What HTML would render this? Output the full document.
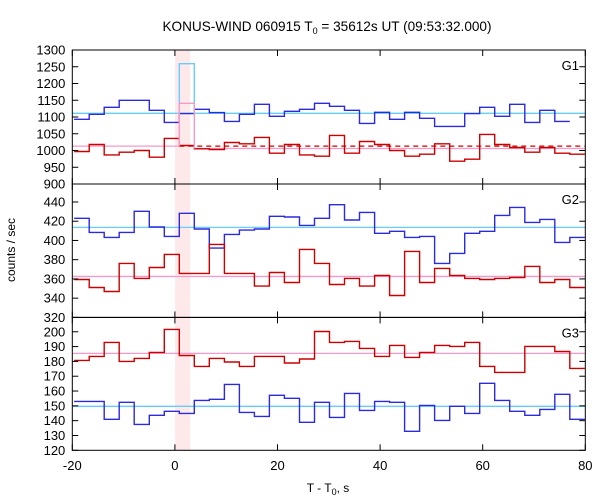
<!DOCTYPE html>
<html><head><meta charset="utf-8"><style>
body{margin:0;background:#fff;}
svg{display:block;font-family:"Liberation Sans",sans-serif;}
</style></head><body>
<svg id="chart" width="600" height="500" viewBox="0 0 600 500" xmlns="http://www.w3.org/2000/svg">
<text x="327" y="31" font-size="13.6" text-anchor="middle">KONUS-WIND 060915 T<tspan font-size="9" dy="3">0</tspan><tspan dy="-3"> = 35612s UT (09:53:32.000)</tspan></text>
<text transform="translate(15,250) rotate(-90)" font-size="12" text-anchor="middle">counts / sec</text>
<text x="328" y="492" font-size="12" text-anchor="middle">T - T<tspan font-size="9" dy="3">0</tspan><tspan dy="-3">, s</tspan></text>
<g id="plot"></g>
</svg>
<script>
const binStart = -19.64, binWidth = 2.928;
const xTicks = [-20, 0, 20, 40, 60, 80];
const g1Blue = [1093,1108,1129,1150,1150,1120,1084,1110,1123,1113,1087,1108,1138,1102,1117,1123,1141,1132,1120,1081,1114,1093,1114,1096,1072,1072,1110,1129,1102,1138,1084,1120,1087];
const g1Red = [997,1018,987,995,1000,980,1036,1015,1005,1003,1024,1020,1039,992,1018,987,983,1045,992,1027,1018,1000,983,989,1020,968,974,1048,1018,1009,995,1009,992,989];
const g1Ticks = [900,950,1000,1050,1100,1150,1200,1250,1300];
const g1BlueBg = 1111, g1RedBg = 1013, g1RedBgAfter = 1006, g1SpikeBlue = 1259, g1SpikeRed = 1141;
const g2Blue = [423,408.4,403.2,408.4,430.3,414,404.2,428.2,411.9,392.1,406.3,410.8,411.9,425.1,424.4,415.7,423,437.2,421.3,429.2,407.4,409.5,403.2,404.2,376.1,386.5,407.4,409.5,426.1,434.4,418.8,421.9,398,403.2];
const g2Red = [359.4,351.1,346.9,376.1,360.5,371.9,385.5,365.7,365.7,395.9,365.7,365.7,352.5,366.7,356.3,390.7,376.1,354.2,360.5,352.5,363.6,342.8,388.6,356.3,370.9,363.6,360.5,359.4,360.5,361.5,373,356.3,359.4,351.1];
const g2Ticks = [320,340,360,380,400,420,440];
const g2BlueBg = 413.6, g2RedBg = 362.6;
const g3Red = [180.7,183.4,192.8,180,182,186.1,201.6,184,176.6,182,179.6,176.6,183.4,183.4,178.9,181.6,200.2,192.8,193.5,188.8,183.4,190.8,182.7,186.1,190.8,190.1,192.8,176.6,172.6,172.6,190.1,190.1,186.7,175.3];
const g3Blue = [153,153,140.9,152.4,137.5,143.6,146.3,144.9,153.7,154.4,164.5,145.6,142.9,157.1,155.1,138.9,152.4,142.2,158.4,146.9,153,152.4,132.8,150.3,140.2,149.7,144.9,165.2,153.7,146.3,143.6,147.6,157.8,140.9];
const g3Ticks = [120,130,140,150,160,170,180,190,200];
const g3BlueBg = 149.7, g3RedBg = 185.4;

const NS = "http://www.w3.org/2000/svg";
const plot = document.getElementById('plot');
const X0 = 72.3, X1 = 585.3, XMIN = -20, XMAX = 80;
function xs(t){ return X0 + (t - XMIN) / (XMAX - XMIN) * (X1 - X0); }
function mk(tag, attrs, parent){ const e = document.createElementNS(NS, tag); for (const k in attrs) e.setAttribute(k, attrs[k]); (parent||plot).appendChild(e); return e; }
const BLUE = "#2a2ae0", RED = "#cc0000", CYAN = "#66ccff", PINK = "#f59ac8";

const band = mk('rect', {x: xs(0.05), y: 50, width: xs(2.98) - xs(0.05), height: 400.3, fill: '#fde9ea'});



const panels = [
  {name:'g1', top:50, bot:184, ymin:900, ymax:1300, ticks:g1Ticks, blue:g1Blue, red:g1Red, blueBg:g1BlueBg, redBg:g1RedBg},
  {name:'g2', top:184, bot:317.4, ymin:320, ymax:458.7, ticks:g2Ticks, blue:g2Blue, red:g2Red, blueBg:g2BlueBg, redBg:g2RedBg},
  {name:'g3', top:317.4, bot:450.3, ymin:120, ymax:209.7, ticks:g3Ticks, blue:g3Blue, red:g3Red, blueBg:g3BlueBg, redBg:g3RedBg}
];

function stepPath(vals, ys){
  let d = '';
  vals.forEach((v, i) => {
    const a = Math.max(XMIN, binStart + i * binWidth), b = Math.min(XMAX, binStart + (i + 1) * binWidth);
    const y = ys(v);
    d += (i === 0 ? 'M' : 'L') + xs(a).toFixed(1) + ',' + y.toFixed(1) + 'L' + xs(b).toFixed(1) + ',' + y.toFixed(1);
  });
  return d;
}

panels.forEach((p) => {
  const ys = v => p.bot - (v - p.ymin) / (p.ymax - p.ymin) * (p.bot - p.top);
  const g = mk('g', {});
  
  
  if (p.name === 'g1') {
    const spA = binStart + 7 * binWidth, spB = binStart + 8 * binWidth;
    const bb = mk('line', {x1: X0, x2: X1, y1: ys(p.blueBg), y2: ys(p.blueBg), stroke: CYAN, 'stroke-width': 1.3}, g);
    
    
    const rb1 = mk('line', {x1: X0, x2: xs(spA), y1: ys(p.redBg), y2: ys(p.redBg), stroke: PINK, 'stroke-width': 1.3}, g);
    
    
    const rb2 = mk('line', {x1: xs(spB), x2: X1, y1: ys(g1RedBgAfter), y2: ys(g1RedBgAfter), stroke: PINK, 'stroke-width': 1.3}, g);
    
    
  } else {
    const bb = mk('line', {x1: X0, x2: X1, y1: ys(p.blueBg), y2: ys(p.blueBg), stroke: CYAN, 'stroke-width': 1.3}, g);
    
    
    const rb = mk('line', {x1: X0, x2: X1, y1: ys(p.redBg), y2: ys(p.redBg), stroke: PINK, 'stroke-width': 1.3}, g);
    
    
  }
  const bl = mk('path', {d: stepPath(p.blue, ys), fill: 'none', stroke: BLUE, 'stroke-width': 1.4}, g);
  
  
  const rd = mk('path', {d: stepPath(p.red, ys), fill: 'none', stroke: RED, 'stroke-width': 1.4}, g);
  
  
  if (p.name === 'g1') {
    const spA = binStart + 7 * binWidth, spB = binStart + 8 * binWidth;
    const dash = mk('line', {x1: xs(spA), x2: X1, y1: ys(g1RedBg), y2: ys(g1RedBg), stroke: RED, 'stroke-width': 1.3, 'stroke-dasharray': '5,4'}, g);
    
    
    const cs = mk('path', {d: 'M' + xs(spA) + ',' + ys(g1BlueBg) + 'L' + xs(spA) + ',' + ys(g1SpikeBlue) + 'L' + xs(spB) + ',' + ys(g1SpikeBlue) + 'L' + xs(spB) + ',' + ys(g1BlueBg), fill: 'none', stroke: CYAN, 'stroke-width': 1.4}, g);
    
    
    const ps = mk('path', {d: 'M' + xs(spA) + ',' + ys(g1RedBg) + 'L' + xs(spA) + ',' + ys(g1SpikeRed) + 'L' + xs(spB) + ',' + ys(g1SpikeRed) + 'L' + xs(spB) + ',' + ys(g1RedBgAfter), fill: 'none', stroke: PINK, 'stroke-width': 1.4}, g);
    
    
  }
  const fr = mk('rect', {x: X0, y: p.top, width: X1 - X0, height: p.bot - p.top, fill: 'none', stroke: '#000', 'stroke-width': 1}, g);
  
  
  p.ticks.forEach(v => {
    const y = ys(v);
    mk('line', {x1: X0, x2: X0 + 6, y1: y, y2: y, stroke: '#000'}, g);
    mk('line', {x1: X1, x2: X1 - 6, y1: y, y2: y, stroke: '#000'}, g);
    const t = mk('text', {x: X0 - 7, y: y + 4.5, 'font-size': 13, 'text-anchor': 'end'}, g);
    
    
    t.textContent = v;
  });
  xTicks.forEach(v => {
    const x = xs(v);
    mk('line', {x1: x, x2: x, y1: p.top, y2: p.top + 6, stroke: '#000'}, g);
    mk('line', {x1: x, x2: x, y1: p.bot, y2: p.bot - 6, stroke: '#000'}, g);
  });
  const lab = mk('text', {x: 579, y: p.top + 20, 'font-size': 13, 'text-anchor': 'end'}, g);
  
  
  lab.textContent = p.name.toUpperCase();
});
xTicks.forEach(v => {
  const t = mk('text', {x: xs(v), y: 470, 'font-size': 13, 'text-anchor': 'middle'});
  
  
  t.textContent = v;
});
</script>
</body></html>
